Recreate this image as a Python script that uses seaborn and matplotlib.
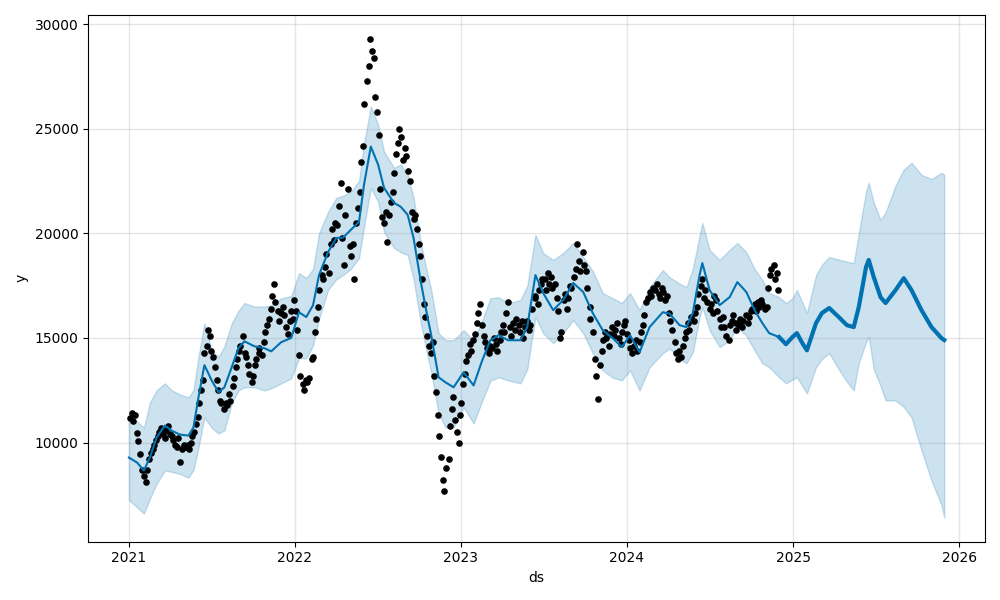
import numpy as np
import pandas as pd
import matplotlib
matplotlib.use("Agg")
import matplotlib.pyplot as plt
import seaborn as sns

# observed values, 8 per month, spread over business days of each year
obs_2021 = [11150, 11400, 11050, 11300, 10450, 10050, 9450, 8700,     # Jan
            8400, 8100, 8700, 9200, 9500, 9700, 9900, 10100,          # Feb
            10300, 10500, 10700, 10400, 10200, 10600, 10800, 10400,   # Mar
            10300, 10100, 9900, 9800, 10200, 9050, 9700, 9900,        # Apr
            9800, 9900, 9700, 10000, 10300, 10500, 10900, 11200,      # May
            11900, 12500, 13000, 14300, 14600, 15400, 15100, 14400,   # Jun
            14100, 13600, 13000, 12500, 12000, 11900, 11600, 11900,   # Jul
            11800, 12300, 12000, 12700, 13100, 13600, 14000, 14400,   # Aug
            14600, 15100, 14300, 14100, 13700, 13300, 12900, 13200,   # Sep
            13700, 14000, 14300, 14500, 14200, 14800, 15300, 15600,   # Oct
            15900, 16400, 17000, 17600, 16700, 16300, 15800, 16200,   # Nov
            16500, 16100, 15500, 15200, 15800, 16300, 15900, 16800]   # Dec
obs_2022 = [16300, 15400, 14200, 13200, 12800, 12500, 13000, 12900,
            13100, 14000, 14100, 15300, 15900, 16500, 17300, 18000,
            17800, 18400, 19000, 18100, 19500, 20200, 19700, 20500,
            20400, 21300, 22400, 19800, 18500, 20900, 22100, 19400,
            18900, 19500, 17800, 20500, 21200, 22000, 23400, 24200,
            26200, 27300, 28000, 29300, 28700, 28400, 26500, 25800,
            24700, 22100, 20800, 20500, 21000, 19600, 20900, 21500,
            22000, 22900, 23800, 24300, 25000, 24600, 23500, 24100,
            23700, 23000, 22500, 21000, 20700, 20900, 20200, 19500,
            18900, 17800, 16600, 16000, 15100, 14600, 14300, 14800,
            13200, 12400, 11300, 10300, 9300, 8200, 7700, 8800,
            9200, 10800, 11600, 12200, 11100, 10500, 10000, 11300]
obs_2023 = [11900, 12800, 13300, 13900, 14200, 14700, 14400, 14900,
            15200, 15700, 16200, 16600, 15600, 15100, 14800, 14500,
            14300, 14600, 14500, 15000, 14700, 14400, 14900, 15300,
            15600, 15300, 16200, 16700, 15500, 15100, 15700, 15400,
            15900, 15600, 15300, 15800, 15000, 15500, 15800, 15400,
            15600, 16400, 16900, 17000, 16600, 17300, 17600, 17800,
            17800, 17300, 18100, 17600, 17900, 17400, 17600, 16900,
            16300, 15000, 15300, 16800, 17100, 16400, 16900, 17500,
            17400, 17900, 18300, 19500, 18700, 18200, 19100, 18500,
            18200, 17400, 16500, 15900, 15300, 14000, 13200, 12100,
            13700, 14400, 14900, 15300, 15000, 14600, 15200, 15500,
            15100, 15400, 15700, 15000, 14700, 15300, 15600, 15800]
obs_2024 = [15200, 14900, 14500, 14300, 14600, 14900, 14400, 14800,
            15300, 15600, 16100, 16700, 16900, 17200, 17000, 17400,
            17300, 17600, 17100, 16900, 17400, 17200, 16800, 17000,
            16200, 15800, 15400, 14800, 14300, 14000, 14400, 14100,
            14600, 15000, 15300, 15700, 15400, 16000, 15800, 16200,
            16500, 17100, 17500, 17800, 16900, 17300, 16700, 16400,
            16600, 16200, 17000, 16800, 16300, 15900, 15500, 16000,
            15500, 15100, 14900, 15600, 15800, 16100, 15700, 15400,
            15600, 15900, 15500, 15800, 16100, 15700, 16000, 16300,
            16400, 16600, 16300, 16700, 16500, 16800, 16600, 16400,
            16500, 17400, 18000, 18300, 18500, 17800, 18100, 17300]
obs_spans = [("2021-01-04", "2021-12-31"), ("2022-01-03", "2022-12-30"),
             ("2023-01-02", "2023-12-29"), ("2024-01-02", "2024-11-29")]
history_end = "2024-11-29"

# forecast (yhat and interval), days after 2021-01-01
fc_day = [0, 18, 33, 46, 61, 79, 94, 112, 131, 142,
          153, 166, 182, 197, 210, 226, 241, 254, 276, 298,
          313, 335, 357, 374, 390, 405, 418, 438, 456, 471,
          488, 506, 517, 532, 548, 561, 583, 598, 613, 626,
          642, 657, 664, 681, 696, 714, 736, 758, 777, 795,
          813, 834, 861, 876, 894, 911, 933, 955, 977, 999,
          1020, 1042, 1064, 1084, 1102, 1123, 1145, 1174, 1189, 1211,
          1226, 1240, 1255, 1261, 1277, 1299, 1321, 1338, 1358, 1376,
          1393, 1408, 1430, 1445, 1459, 1469, 1481, 1491, 1511, 1524,
          1540, 1561, 1579, 1594, 1605, 1621, 1627, 1638, 1653, 1664,
          1686, 1704, 1721, 1743, 1765, 1787, 1793]
yhat = [9280, 9040, 8660, 9280, 10240, 10810, 10570, 10380, 10330, 10720,
        12160, 13700, 12970, 12400, 12640, 13600, 14510, 14840, 14600, 14510,
        14360, 14800, 15000, 16230, 16000, 16570, 18000, 19110, 19780, 19800,
        20170, 20550, 22330, 24150, 23290, 22180, 21460, 21270, 20890, 19780,
        17670, 15950, 15230, 13120, 12880, 12640, 13360, 12730, 13930, 14890,
        15130, 14890, 14890, 15520, 18010, 17150, 16330, 16810, 17630, 17200,
        16190, 15370, 14990, 14560, 15130, 14320, 15520, 16230, 16160, 15610,
        15520, 16190, 18010, 18580, 17290, 16570, 16950, 17670, 17190, 16330,
        15710, 15230, 15040, 14700, 15040, 15230, 14750, 14410, 15710, 16190,
        16430, 16000, 15610, 15520, 16470, 18390, 18730, 17910, 16950, 16670,
        17290, 17860, 17290, 16330, 15520, 14990, 14900]
yhat_upper = [11100, 11000, 10700, 11900, 12500, 12830, 12500, 12300, 12160, 12500,
              14100, 15700, 14400, 14100, 14600, 15700, 16300, 16670, 16500, 16500,
              16570, 16900, 17000, 18100, 17870, 18300, 20000, 21030, 21700, 21800,
              22000, 22500, 24300, 26070, 25200, 23910, 23140, 23290, 22800, 21700,
              19540, 18000, 17400, 15230, 14900, 14890, 15370, 14890, 15850, 16900,
              16950, 16670, 16810, 17500, 19930, 19060, 18730, 19060, 19540, 18870,
              18200, 17150, 16900, 16670, 17150, 16330, 17430, 18250, 17900, 17600,
              17430, 18300, 19900, 20500, 19210, 18730, 19210, 19540, 19100, 18300,
              17770, 17150, 16950, 16670, 16900, 17290, 16700, 16190, 18000, 18500,
              18870, 18750, 18650, 18580, 20000, 22000, 22420, 21460, 20650, 21000,
              22300, 23050, 23380, 22800, 22600, 22900, 22800]
yhat_lower = [7250, 6900, 6600, 7300, 8030, 8660, 8600, 8500, 8320, 8700,
              9760, 11200, 10700, 10430, 10580, 11870, 12490, 12640, 12640, 12490,
              12590, 12830, 13070, 14030, 14030, 14650, 15900, 17300, 17800, 18010,
              18300, 18820, 20300, 22180, 21510, 20070, 19300, 19100, 18970, 17800,
              15700, 14100, 13450, 11390, 10720, 10720, 11680, 10910, 12000, 12950,
              13120, 12970, 12830, 13500, 16000, 15230, 14750, 15230, 15850, 15230,
              14270, 13450, 13100, 12970, 13450, 12490, 13600, 14270, 14500, 14000,
              13790, 14300, 16000, 16470, 15370, 14560, 14890, 15520, 15100, 14400,
              13790, 13600, 13120, 12830, 13000, 13120, 12700, 12350, 13600, 14000,
              14270, 13500, 12900, 12490, 13800, 14800, 15040, 13500, 12700, 12010,
              12010, 11700, 11200, 9620, 8180, 7000, 6400]

# build tables
obs_parts = []
for (start, end), vals in zip(obs_spans, [obs_2021, obs_2022, obs_2023, obs_2024]):
    bdays = pd.bdate_range(start, end)
    idx = np.linspace(0, len(bdays) - 1, len(vals)).round().astype(int)
    obs_parts.append(pd.DataFrame({"ds": bdays[idx], "y": vals}))
history = pd.concat(obs_parts, ignore_index=True)

fcst = pd.DataFrame({
    "ds": pd.Timestamp("2021-01-01") + pd.to_timedelta(fc_day, unit="D"),
    "yhat": yhat, "yhat_lower": yhat_lower, "yhat_upper": yhat_upper})

fig, ax = plt.subplots(figsize=(10, 6), facecolor="w")
sns.scatterplot(data=history, x="ds", y="y", color="k", s=14,
                edgecolor="k", linewidth=1, ax=ax, zorder=3)
sns.lineplot(data=fcst, x="ds", y="yhat", color="#0072B2", lw=1.5, ax=ax, zorder=4)
future = fcst[fcst["ds"] >= pd.Timestamp(history_end)]
sns.lineplot(data=future, x="ds", y="yhat", color="#0072B2", lw=3, ax=ax, zorder=4)
ax.fill_between(fcst["ds"], fcst["yhat_lower"], fcst["yhat_upper"],
                color="#0072B2", alpha=0.2)

ax.grid(True, which="major", c="gray", ls="-", lw=1, alpha=0.2)
ax.set_xlabel("ds")
ax.set_ylabel("y")
fig.tight_layout()
fig.savefig("out.png", dpi=100)
